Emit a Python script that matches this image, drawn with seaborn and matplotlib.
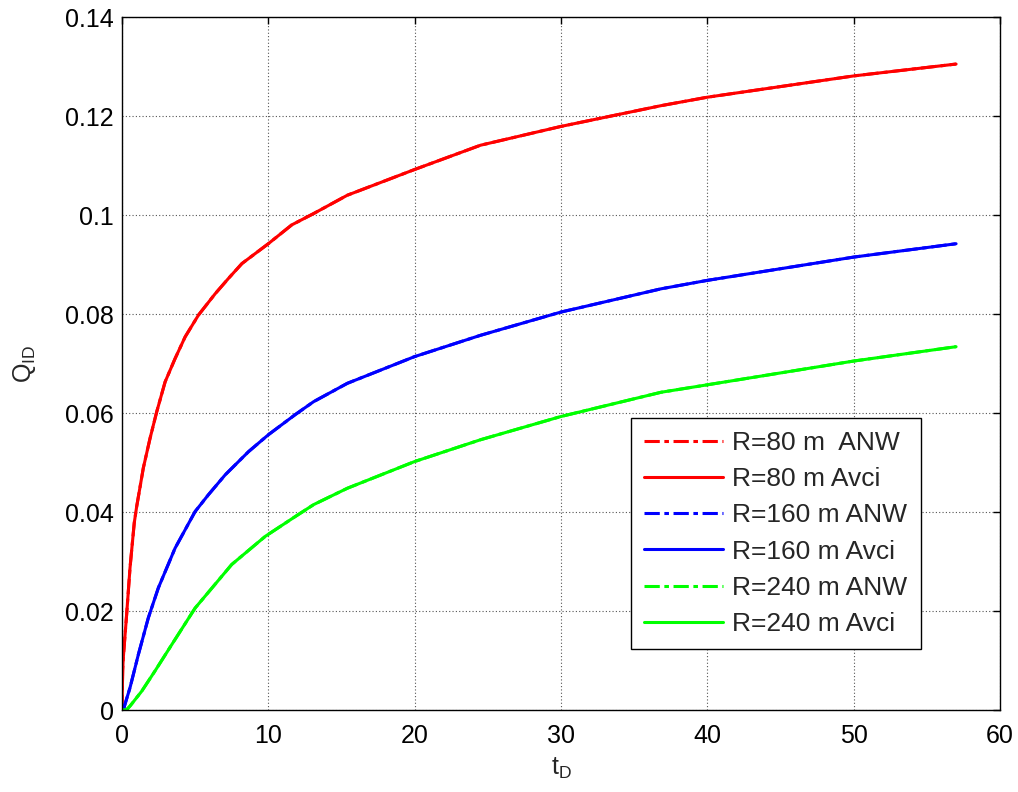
import matplotlib
matplotlib.use("Agg")
import matplotlib.pyplot as plt
import seaborn as sns
import pandas as pd

sns.set_style("white")
plt.rcParams["font.family"] = ["Liberation Sans", "DejaVu Sans"]
plt.rcParams["mathtext.fontset"] = "custom"
plt.rcParams["mathtext.rm"] = "Liberation Sans"
plt.rcParams["mathtext.it"] = "Liberation Sans"

# Dimensionless time samples and cumulative influx for each radius
t_r80 = [0, 0.05, 0.09, 0.32, 0.55, 0.84, 1.0, 1.46, 1.92, 2.38, 2.95, 3.63,
         4.32, 5.23, 6.37, 7.28, 8.2, 10, 11.6, 13.1, 15.4, 20, 24.5, 30,
         36.85, 40, 50, 57]
q_r80 = [0, 0.008, 0.0105, 0.0193, 0.0287, 0.0378, 0.041, 0.0489, 0.0549,
         0.0603, 0.0663, 0.071, 0.0754, 0.0798, 0.0841, 0.0872, 0.0902, 0.0942,
         0.098, 0.1003, 0.104, 0.1092, 0.1141, 0.1179, 0.1221, 0.1238, 0.1281,
         0.1305]

t_r160 = [0, 0.1, 0.2, 0.55, 1.12, 1.8, 2.49, 3.63, 5.0, 5.91, 7.05, 8.65, 10,
          11.85, 13.1, 15.4, 20, 24.5, 30, 36.85, 40, 50, 57]
q_r160 = [0, 0.0, 0.0011, 0.0045, 0.0112, 0.0186, 0.0247, 0.0327, 0.0401,
          0.0435, 0.0475, 0.0522, 0.0556, 0.0597, 0.0623, 0.066, 0.0714, 0.0757,
          0.0804, 0.0851, 0.0868, 0.0915, 0.0942]

t_r240 = [0, 0.3, 0.55, 1.35, 2.26, 3.4, 5.0, 7.5, 9.8, 11.85, 13.1, 15.4, 20,
          24.5, 30, 36.85, 40, 50, 57]
q_r240 = [0, 0.0, 0.0008, 0.0038, 0.0079, 0.0132, 0.0206, 0.0294, 0.0351,
          0.0391, 0.0415, 0.0448, 0.0502, 0.0546, 0.0593, 0.0642, 0.0657,
          0.0705, 0.0734]

# ANW and Avci solutions coincide at plotting resolution
series = [
    ("R=80 m  ANW", t_r80, q_r80, "#ff0000", "anw"),
    ("R=80 m Avci", t_r80, q_r80, "#ff0000", "avci"),
    ("R=160 m ANW", t_r160, q_r160, "#0000ff", "anw"),
    ("R=160 m Avci", t_r160, q_r160, "#0000ff", "avci"),
    ("R=240 m ANW", t_r240, q_r240, "#00ff00", "anw"),
    ("R=240 m Avci", t_r240, q_r240, "#00ff00", "avci"),
]

x_ticks = [0, 10, 20, 30, 40, 50, 60]
y_ticks = [0, 0.02, 0.04, 0.06, 0.08, 0.1, 0.12, 0.14]
y_tick_labels = ["0", "0.02", "0.04", "0.06", "0.08", "0.1", "0.12", "0.14"]

FS = 18
LEG_FS = 19

fig = plt.figure(figsize=(10.18, 7.92), dpi=100)
ax = fig.add_axes([0.1198, 0.1035, 0.8625, 0.875])

for label, t, q, color, kind in series:
    df = pd.DataFrame({"t": t, "q": q})
    line_kw = dict(linewidth=2.2, color=color, label=label)
    if kind == "anw":
        line_kw["dashes"] = (5, 1.5, 1.5, 1.5)
    sns.lineplot(data=df, x="t", y="q", ax=ax, estimator=None, sort=False, **line_kw)

ax.set_xlim(0, 60)
ax.set_ylim(0, 0.14)
ax.set_xticks(x_ticks)
ax.set_xticklabels([str(v) for v in x_ticks])
ax.set_yticks(y_ticks)
ax.set_yticklabels(y_tick_labels)
ax.tick_params(direction="in", length=5, width=1, top=True, right=True,
               labelsize=FS, colors="black")
ax.tick_params(axis="y", pad=6)
ax.tick_params(axis="x", pad=10)
ax.grid(True, linestyle=(0, (1, 2)), color="#555555", linewidth=0.8)
for sp in ax.spines.values():
    sp.set_color("black")
    sp.set_linewidth(1.0)

ax.set_xlabel(r"t$_{\rm D}$", fontsize=FS, labelpad=6)
ax.set_ylabel(r"Q$_{\rm ID}$", fontsize=FS, labelpad=19)

handles, labels = ax.get_legend_handles_labels()
leg = ax.legend(handles, labels, loc="upper left", bbox_to_anchor=(0.5797, 0.4214),
                borderaxespad=0, fontsize=LEG_FS, frameon=True, fancybox=False,
                edgecolor="black", framealpha=1, handlelength=3.0,
                labelspacing=0.46, borderpad=0.5, handletextpad=0.34)
leg.get_frame().set_linewidth(1.0)

fig.savefig("out.png", dpi=100)
